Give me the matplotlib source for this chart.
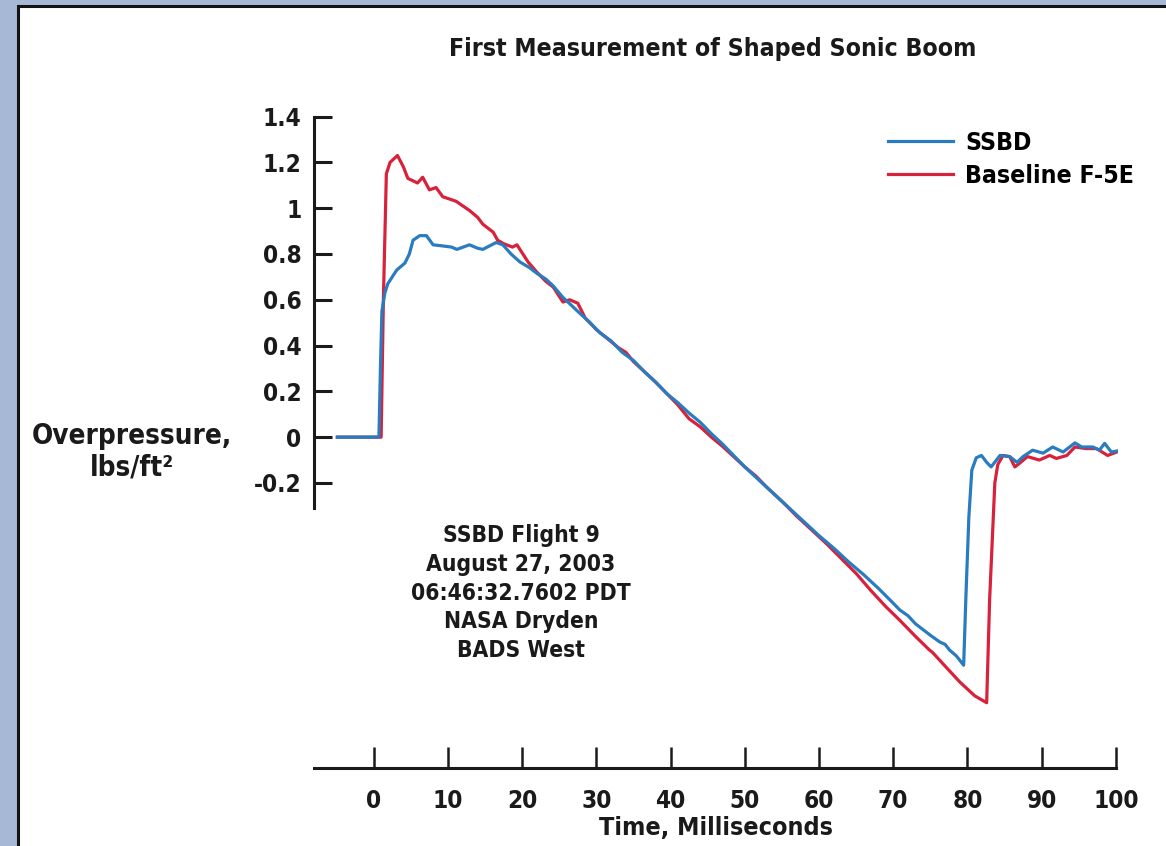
import matplotlib
matplotlib.use("Agg")
import matplotlib.pyplot as plt
from matplotlib import font_manager
from matplotlib.patches import Rectangle

# SSBD trace (ms, lbs/ft^2)
ssbd_t = [-4.9, 0.7, 0.9, 1.1, 1.5, 1.9, 2.5, 3.1, 4.2, 4.8, 5.3, 6.2, 7.1,
          8.0, 9.3, 10.5, 11.2, 12.9, 14.0, 14.7, 15.6, 16.5, 17.4, 18.5,
          19.7, 21.0, 22.0, 23.2, 24.2, 25.5, 26.5, 27.8, 29.0, 30.5, 32.0,
          33.5, 35.0, 36.5, 38.0, 39.5, 41.0, 42.5, 44.0, 45.5, 47.0, 48.5,
          50.0, 52.0, 54.0, 56.0, 58.0, 60.0, 62.0, 64.0, 66.0, 68.0, 70.0,
          70.9, 72.0, 73.0, 73.6, 75.0, 76.3, 77.0, 77.6, 78.5, 79.5, 79.8,
          80.2, 80.6, 81.2, 81.9, 82.6, 83.2, 84.4, 85.7, 86.7, 87.5, 88.8,
          90.2, 91.5, 92.9, 94.5, 95.4, 96.9, 97.8, 98.5, 99.4, 100.8]
ssbd_p = [0.0, 0.0, 0.3, 0.55, 0.63, 0.67, 0.70, 0.73, 0.76, 0.80, 0.86,
          0.88, 0.88, 0.84, 0.835, 0.83, 0.82, 0.84, 0.825, 0.82, 0.835,
          0.85, 0.84, 0.80, 0.765, 0.74, 0.715, 0.69, 0.66, 0.61, 0.58,
          0.54, 0.505, 0.455, 0.42, 0.37, 0.335, 0.285, 0.24, 0.19, 0.15,
          0.105, 0.065, 0.015, -0.03, -0.08, -0.13, -0.19, -0.25, -0.31,
          -0.37, -0.43, -0.485, -0.545, -0.60, -0.66, -0.725, -0.755, -0.78,
          -0.815, -0.83, -0.865, -0.895, -0.905, -0.93, -0.955, -0.996,
          -0.70, -0.35, -0.144, -0.09, -0.08, -0.11, -0.13, -0.08, -0.085,
          -0.11, -0.085, -0.057, -0.07, -0.043, -0.065, -0.025, -0.043,
          -0.043, -0.057, -0.027, -0.065, -0.057]

# Baseline F-5E trace
f5e_t = [-4.9, 1.0, 1.3, 1.7, 2.2, 3.2, 4.0, 4.6, 5.9, 6.6, 7.5, 8.4, 9.3,
         11.1, 12.0, 12.9, 14.0, 14.7, 16.1, 16.7, 17.5, 18.7, 19.3, 20.8,
         22.0, 23.2, 24.2, 25.5, 26.4, 27.5, 28.5, 30.0, 31.5, 33.0, 34.0,
         35.0, 36.5, 38.0, 39.5, 41.0, 42.5, 44.0, 45.5, 47.0, 48.5, 50.0,
         51.5, 53.0, 55.0, 57.0, 59.0, 61.0, 63.0, 65.0, 67.0, 69.0, 70.9,
         73.0, 74.9, 75.3, 77.0, 79.0, 81.0, 82.6, 83.0, 83.7, 84.1, 84.8,
         85.7, 86.4, 87.0, 88.1, 89.7, 91.1, 92.0, 93.4, 94.5, 96.0, 97.4,
         98.9, 100.8]
f5e_p = [0.0, 0.0, 0.6, 1.15, 1.2, 1.23, 1.18, 1.13, 1.11, 1.135, 1.08,
         1.09, 1.05, 1.03, 1.01, 0.99, 0.96, 0.93, 0.895, 0.86, 0.845, 0.83,
         0.84, 0.765, 0.72, 0.68, 0.655, 0.59, 0.60, 0.585, 0.52, 0.47, 0.43,
         0.39, 0.37, 0.33, 0.285, 0.24, 0.19, 0.14, 0.08, 0.045, 0.0, -0.04,
         -0.085, -0.13, -0.17, -0.22, -0.28, -0.345, -0.405, -0.465, -0.53,
         -0.595, -0.67, -0.74, -0.80, -0.87, -0.93, -0.94, -1.0, -1.07,
         -1.13, -1.16, -0.71, -0.2, -0.12, -0.08, -0.085, -0.13, -0.115,
         -0.085, -0.1, -0.08, -0.093, -0.08, -0.043, -0.05, -0.05, -0.08,
         -0.057]

x_ticks = [0, 10, 20, 30, 40, 50, 60, 70, 80, 90, 100]
y_ticks = [-0.2, 0, 0.2, 0.4, 0.6, 0.8, 1, 1.2, 1.4]
y_labels = ['-0.2', '0', '0.2', '0.4', '0.6', '0.8', '1', '1.2', '1.4']
note_lines = ['SSBD Flight 9', 'August 27, 2003', '06:46:32.7602 PDT',
              'NASA Dryden', 'BADS West']

# look for a condensed sans; otherwise plain Liberation Sans
fam, k = 'Liberation Sans', 1.07
cands = [f for f in font_manager.fontManager.ttflist
         if ('Condensed' in f.fname or 'Narrow' in f.fname)
         and 'Sans' in f.name and 'Mono' not in f.name]
if cands:
    fam, k = cands[0].name, 1.0
    plt.rcParams['font.stretch'] = 'condensed'
plt.rcParams['font.family'] = [fam, 'DejaVu Sans']
plt.rcParams['font.weight'] = 'bold'
ink = '#1a1a1a'

W, H = 1166, 846
fig = plt.figure(figsize=(W / 100, H / 100), dpi=100, facecolor='#a7b8d6')

# white panel with dark edge
panel = Rectangle((18 / W, -0.1), 1.2, 1 - 6 / H + 0.1, transform=fig.transFigure,
                  facecolor='white', edgecolor='#121212', linewidth=2.2, zorder=-5)
fig.patches.append(panel)

ax = fig.add_axes([314 / W, 1 - 768 / H, (1118 - 314) / W, (768 - 112) / H])
ax.set_facecolor('none')
ax.set_xlim(-8.05, 100.3)
ax.set_ylim(-1.445, 1.42)

red, = ax.plot(f5e_t, f5e_p, color='#d8213b', lw=2.3, label='Baseline F-5E')
blue, = ax.plot(ssbd_t, ssbd_p, color='#2a7cc0', lw=2.3, label='SSBD')

for s in ['top', 'right']:
    ax.spines[s].set_visible(False)
for s in ['left', 'bottom']:
    ax.spines[s].set_linewidth(2.2)
    ax.spines[s].set_color(ink)
ax.spines['left'].set_bounds(-0.31, 1.4)
ax.spines['bottom'].set_bounds(-8.05, 100)

ax.set_xticks(x_ticks)
ax.set_yticks(y_ticks)
ax.set_yticklabels(y_labels)
ax.tick_params(axis='y', direction='in', length=13, width=2.2, pad=9,
               labelsize=17.5 * k, color=ink)
ax.tick_params(axis='x', direction='in', length=15, width=1.8, pad=15,
               labelsize=17.5 * k, color=ink)
for lab in ax.get_xticklabels() + ax.get_yticklabels():
    lab.set_fontweight('bold')
    lab.set_color(ink)

ax.set_xlabel('Time, Milliseconds', fontsize=18 * k, fontweight='bold',
              color=ink, labelpad=2)

fig.text(713 / W, 1 - 49 / H, 'First Measurement of Shaped Sonic Boom',
         ha='center', va='center', fontsize=17.8 * k, fontweight='bold',
         color=ink)
fig.text(132 / W, 1 - 452 / H, 'Overpressure,\nlbs/ft²', ha='center',
         va='center', fontsize=20 * k, fontweight='bold', color=ink,
         linespacing=1.14)
fig.text(521 / W, 1 - 593 / H, '\n'.join(note_lines), ha='center', va='center',
         fontsize=16.4 * k, fontweight='bold', color=ink, linespacing=1.32)

ax.legend(handles=[blue, red], loc='upper left',
          bbox_to_anchor=(888 / W, 1 - 131 / H), bbox_transform=fig.transFigure,
          frameon=False, borderpad=0, borderaxespad=0, handlelength=2.63,
          handletextpad=0.5, labelspacing=0.36,
          prop={'size': 17.8 * k, 'weight': 'bold'})

fig.savefig('out.png', dpi=100, facecolor=fig.get_facecolor())
